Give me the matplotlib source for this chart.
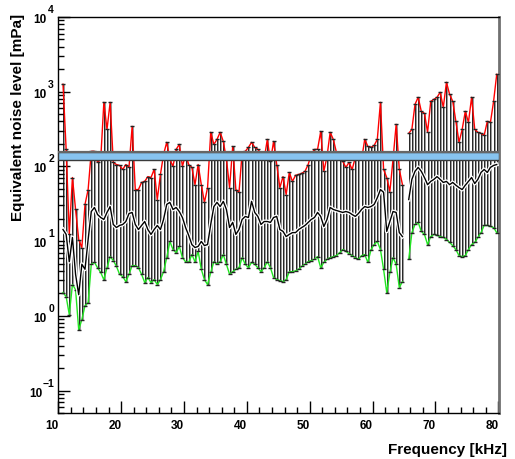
import numpy as np
import matplotlib
matplotlib.use('Agg')
import matplotlib.pyplot as plt
from matplotlib.patches import Rectangle
import matplotlib.patheffects as pe
from matplotlib.transforms import blended_transform_factory, ScaledTranslation

plt.rcParams['font.family'] = ['Liberation Sans', 'DejaVu Sans']
plt.rcParams['font.weight'] = 'bold'

# ---- data ----
freq = np.arange(11.75, 81.0, 0.5)   # kHz bins (139)
nan = np.nan

max_level = np.array([
    1260, 169, 12.3, 71, 26.5, 10.5, 8.2, 31, 49, 159,
    159, 113, 124, 721, 313, 721, 113, 106, 103, 91,
    106, 97, 344, 49, 49, 61, 63, 73, 71, 91,
    36, 78, 145, 210, 124, 100, 169, 197, 100, 145,
    106, 97, 57, 106, 57, 33, 52, 286, 197, 230,
    286, 216, 124, 52, 185, 49, 45, 154, 159, 180,
    210, 180, 169, 145, 124, 230, 117, 216, 106, 52,
    73, 42, 83, 63, 76, 78, 81, 86, 106, 145,
    169, 169, 294, 86, 136, 286, 230, 154, 124, 117,
    97, 113, 91, 132, 145, 124, 230, 185, 180, 191,
    230, 721, 91, 71, 46, 124, 366, 91, 57, nan,
    277, 313, 678, 841, 546, 513, 286, 743, 791, 841,
    982, 618, 1337, 923, 743, 401, 210, 313, 546, 389,
    841, 313, 286, 277, 260, 401, 389, 743, 1711])

median_level = np.array([
    14.3, 12.3, 5.3, 11.2, 3.6, 1.92, 4.9, 4.2, 10.5, 24.9,
    28.2, 22.7, 20.7, 19.5, 24.2, 29, 16.7, 15.2, 16.2, 16.7,
    18.3, 23.4, 24.2, 16.7, 14.3, 16.2, 18.3, 14.3, 12.3, 14.3,
    16.2, 14.3, 19.5, 31, 33, 26.5, 28.2, 24.9, 20.7, 15.2,
    11.9, 9.0, 8.2, 8.5, 9.9, 8.7, 9.0, 16.7, 29, 33,
    29, 34, 26.5, 15.2, 17.8, 12.3, 14.3, 19.5, 21.4, 20.7,
    34, 24.2, 21.4, 16.7, 18.3, 18.3, 17.8, 20.7, 21.4, 14.3,
    13.5, 11.5, 12.3, 13.0, 13.0, 14.3, 15.2, 16.2, 17.8, 19.5,
    20.7, 24.2, 21.4, 15.7, 19.5, 28.2, 26.5, 25.7, 24.9, 24.2,
    24.9, 24.2, 22.7, 21.4, 23.4, 26.5, 29, 28.2, 29, 31,
    38, 49, 45, 13.5, 18.3, 24.9, 24.2, 13.0, 11.5, nan,
    36, 67, 86, 97, 86, 71, 57, 63, 67, 73,
    67, 61, 63, 57, 61, 56, 52, 49, 56, 63,
    71, 59, 67, 83, 91, 83, 97, 103, 106])

min_level = np.array([
    2.05, 1.81, 1.04, 2.62, 2.25, 0.65, 0.89, 1.37, 1.5, 4.9,
    5.2, 4.4, 3.8, 3.05, 4.4, 6.2, 5.5, 4.6, 3.6, 3.35,
    2.87, 3.6, 4.7, 4.7, 4.4, 3.6, 2.79, 3.25, 2.79, 3.05,
    2.62, 3.05, 3.9, 6.0, 9.9, 7.7, 7.0, 8.5, 6.0, 5.3,
    5.2, 6.6, 5.3, 7.3, 4.2, 3.05, 2.62, 3.8, 5.3, 4.9,
    5.3, 6.6, 4.9, 3.6, 3.9, 4.2, 4.4, 6.0, 4.9, 4.4,
    5.2, 4.9, 4.4, 3.9, 4.4, 5.3, 4.4, 3.25, 3.05, 2.96,
    2.87, 3.05, 3.9, 3.9, 4.0, 4.2, 4.6, 4.9, 5.3, 5.5,
    5.7, 6.2, 4.4, 5.2, 5.7, 6.0, 6.2, 6.4, 7.0, 7.7,
    7.3, 6.8, 6.4, 6.0, 5.7, 6.4, 6.6, 5.2, 7.7, 9.0,
    9.9, 7.7, 4.2, 2.05, 3.8, 6.0, 4.9, 2.39, 2.87, nan,
    5.7, 13.0, 16.7, 17.8, 13.5, 12.3, 9.0, 11.5, 12.3, 11.9,
    11.5, 11.2, 10.5, 9.6, 8.7, 7.7, 6.4, 6.2, 6.4, 7.7,
    9.0, 9.6, 11.2, 13.0, 16.2, 16.2, 15.7, 15.2, 13.0])

band_low, band_high = 120, 154

x_tick_pos = [11, 21, 31, 41, 51, 61, 71, 81]
x_minor_pos = [13, 15, 17, 19, 23, 25, 27, 29, 33, 35, 37, 39, 43, 45, 47, 49,
               53, 55, 57, 59, 63, 65, 67, 69, 73, 75, 77, 79]
x_label_vals = [10, 20, 30, 40, 50, 60, 70, 80]
x_label_text = ['10', '20', '30', '40', '50', '60', '70', '80']
y_exponents = [-1, 0, 1, 2, 3, 4]

# ---- figure ----
W, H = 515, 459
DPI = 100
fig = plt.figure(figsize=(W / DPI, H / DPI), dpi=DPI)
fig.patch.set_facecolor('white')
ax = fig.add_axes([58 / W, 1 - 413 / H, 441 / W, 396 / H])
ax.set_xlim(10.955, 81.11)
ax.set_yscale('log')
ax.set_ylim(0.05, 1e4)

# vertical range lines (black with grey shadow)
ax.vlines(freq + 0.16, min_level, max_level, color='#9a9a9a', lw=0.75, zorder=1)
ax.vlines(freq, min_level, max_level, color='black', lw=0.6, zorder=2)

ax.plot(freq, max_level, color='#ff0000', lw=1.0, zorder=3)
ax.plot(freq, min_level, color='#22e622', lw=1.0, zorder=3)
ax.plot(freq, max_level, ls='none', marker='_', ms=3, mew=1, color='#222222', zorder=4)
ax.plot(freq, min_level, ls='none', marker='_', ms=3, mew=1, color='#222222', zorder=4)
ax.plot(freq, median_level, color='black', lw=1.0, zorder=4,
        path_effects=[pe.Stroke(linewidth=2.8, foreground='white'), pe.Normal()])

# reference band
btr = blended_transform_factory(ax.transAxes, ax.transData)
ax.add_patch(Rectangle((0, band_low), 1, band_high - band_low, transform=btr,
                       facecolor='#87c3ef', edgecolor='#3a3a3a', lw=1.0, zorder=6))
ax.plot([0, 1], [band_high, band_high], transform=btr, color='#666666', lw=1.6, zorder=7)

# axes styling
for s in ['left', 'bottom', 'top']:
    ax.spines[s].set_color('black')
    ax.spines[s].set_linewidth(1.0)
ax.spines['right'].set_color('#707070')
ax.spines['right'].set_linewidth(2.0)

ax.set_xticks(x_tick_pos)
ax.set_xticks(x_minor_pos, minor=True)
ax.set_xticklabels([])
ax.set_yticks([10.0 ** e for e in y_exponents])
ax.set_yticklabels([])
ax.tick_params(which='major', direction='in', length=8.6, width=1.0,
               top=False, right=False)
ax.tick_params(which='minor', direction='in', length=4.3, width=1.0,
               top=False, right=False)

# x tick labels
xtr = blended_transform_factory(ax.transData, ax.transAxes)
off = ScaledTranslation(0, -13 / DPI, fig.dpi_scale_trans)
for v, t in zip(x_label_vals, x_label_text):
    ax.text(v, 0, t, transform=xtr + off, ha='center', va='center',
            fontsize=8.5, fontweight='bold', clip_on=False)

# y tick labels, ROOT style "10" + raised exponent
ytr = blended_transform_factory(ax.transAxes, ax.transData)
for e in y_exponents:
    es = str(e).replace('-', '\u2212')
    exp_off = ScaledTranslation(-4 / DPI, 7 / DPI, fig.dpi_scale_trans)
    ax.text(0, 10.0 ** e, es, transform=ytr + exp_off, ha='right', va='center',
            fontsize=7.5, fontweight='bold', clip_on=False)
    ew = 5 + 3 * (len(es) - 1)
    base_off = ScaledTranslation(-(4 + ew + 3) / DPI, -3 / DPI, fig.dpi_scale_trans)
    ax.text(0, 10.0 ** e, '10', transform=ytr + base_off, ha='right', va='center',
            fontsize=8.5, fontweight='bold', clip_on=False)

fig.text(18.5 / W, 1 - 14 / H, 'Equivalent noise level [mPa]', rotation=90,
         ha='center', va='top', fontsize=11, fontweight='bold')
fig.text(507 / W, 1 - 454 / H, 'Frequency [kHz]', ha='right', va='baseline',
         fontsize=11, fontweight='bold')

fig.savefig('out.png', dpi=DPI, facecolor='white')
